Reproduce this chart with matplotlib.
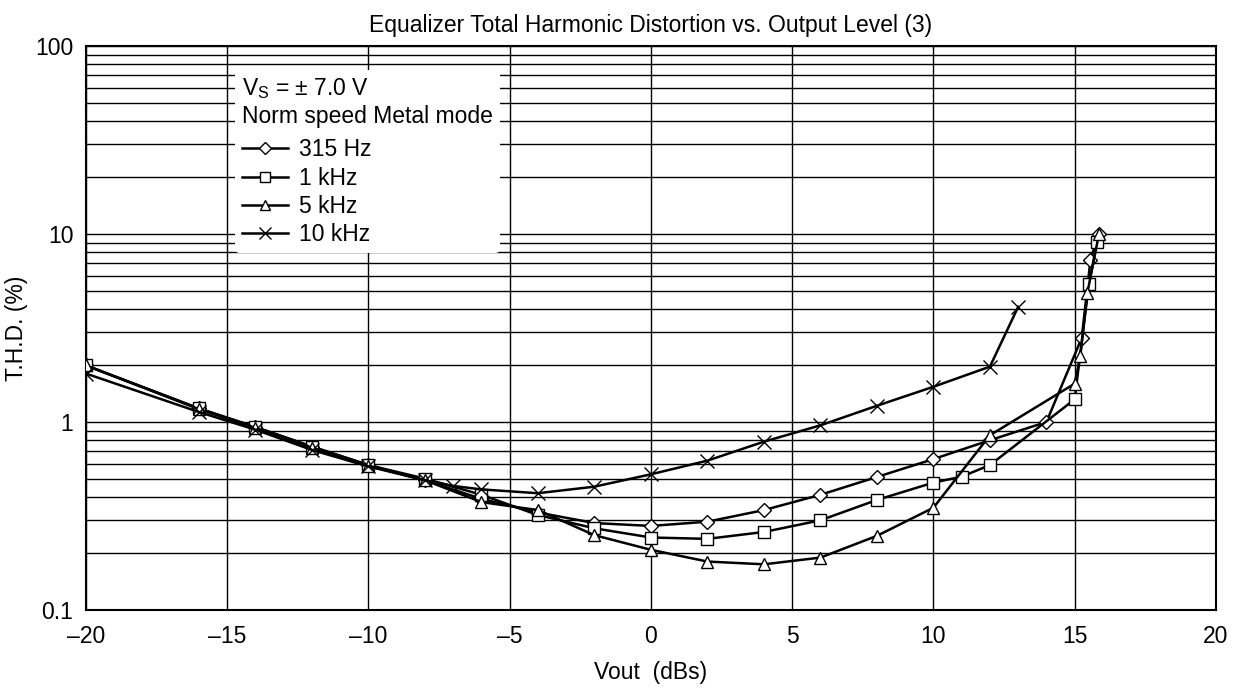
import numpy as np
import matplotlib
matplotlib.use('Agg')
import matplotlib.pyplot as plt
from matplotlib.ticker import FixedLocator, NullFormatter, FuncFormatter

plt.rcParams['font.family'] = ['Liberation Sans', 'DejaVu Sans']

# --- Data --- #
x_315 = [-20, -16, -14, -12, -10, -8, -6, -4, -2, 0, 2, 4, 6, 8, 10, 12, 14, 15.25, 15.56, 15.85]
y_315 = [2.0, 1.18, 0.94, 0.74, 0.59, 0.49, 0.39, 0.33, 0.29, 0.28, 0.295, 0.34, 0.41, 0.51, 0.635, 0.80, 1.0, 2.8, 7.3, 10.0]

x_1k = [-20, -16, -14, -12, -10, -8, -6, -4, -2, 0, 2, 4, 6, 8, 10, 11, 12, 15, 15.5, 15.8]
y_1k = [2.0, 1.18, 0.94, 0.74, 0.59, 0.50, 0.41, 0.32, 0.272, 0.243, 0.239, 0.26, 0.30, 0.385, 0.476, 0.512, 0.59, 1.32, 5.4, 9.1]

x_5k = [-20, -16, -14, -12, -10, -8, -6, -4, -2, 0, 2, 4, 6, 8, 10, 12, 15, 15.2, 15.45, 15.86]
y_5k = [2.0, 1.17, 0.93, 0.73, 0.585, 0.49, 0.375, 0.34, 0.25, 0.209, 0.181, 0.175, 0.19, 0.248, 0.35, 0.85, 1.6, 2.24, 4.87, 10.0]

x_10k = [-20, -16, -14, -12, -10, -8, -7, -6, -4, -2, 0, 2, 4, 6, 8, 10, 12, 13]
y_10k = [1.81, 1.13, 0.91, 0.71, 0.58, 0.49, 0.457, 0.438, 0.418, 0.453, 0.527, 0.623, 0.786, 0.96, 1.22, 1.54, 1.97, 4.1]

series = [
    (x_315, y_315, 'D', 7, '315 Hz'),
    (x_1k, y_1k, 's', 8, '1 kHz'),
    (x_5k, y_5k, '^', 8.5, '5 kHz'),
    (x_10k, y_10k, 'x', 9.5, '10 kHz'),
]

FS = 16.5

fig = plt.figure(figsize=(12.42, 6.92), dpi=100)
ax = fig.add_axes([0.0692, 0.1185, 0.9098, 0.815])

for xs, ys, mk, ms, lab in series:
    ax.plot(xs, ys, color='black', lw=1.8, marker=mk, ms=ms, mfc='white',
            mec='black', mew=1.0, label=lab, zorder=3)

ax.set_yscale('log')
ax.set_xlim(-20, 20)
ax.set_ylim(0.1, 100)

# grid: every 5 on x, every minor decade step on y
ax.set_xticks(np.arange(-20, 21, 5))
ax.xaxis.set_major_formatter(FuncFormatter(lambda v, p: f"{int(v)}".replace('-', '\u2013')))
ax.yaxis.set_major_locator(FixedLocator([0.1, 1, 10, 100]))
ax.yaxis.set_major_formatter(FuncFormatter(lambda v, p: f"{v:g}"))
minors = [m * 10.0 ** d for d in (-1, 0, 1) for m in range(2, 10)]
ax.yaxis.set_minor_locator(FixedLocator(minors))
ax.yaxis.set_minor_formatter(NullFormatter())
ax.grid(True, which='both', axis='y', color='black', lw=1.0)
ax.grid(True, which='major', axis='x', color='black', lw=1.0)
ax.tick_params(which='both', length=0, labelsize=FS)
ax.tick_params(axis='x', pad=11)
ax.tick_params(axis='y', pad=9)
for s in ax.spines.values():
    s.set_linewidth(1.5)
ax.set_axisbelow(True)

ax.set_xlabel('Vout  (dBs)', fontsize=FS, labelpad=9)
ax.set_ylabel('T.H.D. (%)', fontsize=FS, labelpad=5)
ax.set_title('Equalizer Total Harmonic Distortion vs. Output Level (3)', fontsize=FS, pad=10)

leg = ax.legend(loc='upper left', bbox_to_anchor=(0.132, 0.958), frameon=True,
                fontsize=FS, handlelength=2.0, handletextpad=0.5, borderpad=0.3,
                labelspacing=0.23, borderaxespad=0, markerscale=0.85,
                title='V$_\\mathregular{S}$ = \u00b1 7.0 V\nNorm speed Metal mode',
                title_fontsize=FS, alignment='left')
leg._legend_box.sep = 7.5  # extra gap between the note and the entries
leg.get_frame().set_facecolor('white')
leg.get_frame().set_edgecolor('none')
leg.get_frame().set_alpha(1.0)
leg.set_zorder(5)

fig.savefig('out.png', dpi=100)
